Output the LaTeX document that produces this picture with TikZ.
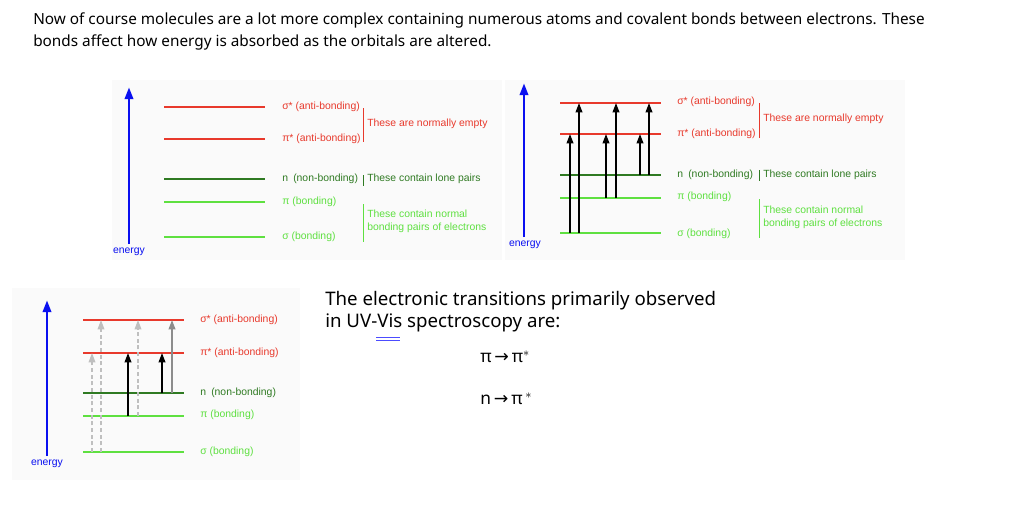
\documentclass[tikz,border=0pt]{standalone}
\usepackage{fontspec}
\setmainfont{Noto Sans}
\newfontfamily\lib{Liberation Sans}
\newfontfamily\dv{DejaVu Sans}
\definecolor{ared}{HTML}{E8392C}
\definecolor{dgreen}{HTML}{2F7A22}
\definecolor{lgreen}{HTML}{5EE040}
\definecolor{eblue}{HTML}{0A10F0}
\usetikzlibrary{arrows.meta}
\tikzset{
 lvl/.style={line width=1.3pt},
 lab/.style={anchor=west,font=\lib\fontsize{7.8}{9.5}\selectfont,inner sep=0pt},
 en/.style={-{Triangle[length=9pt,width=6pt]},eblue,line width=2.2pt},
 tr/.style={-{Triangle[length=7pt,width=5pt]},black,line width=1.2pt},
 trl/.style={-{Triangle[length=7pt,width=5pt]},black!25,line width=1pt,densely dashed},
 trg/.style={-{Triangle[length=7pt,width=5pt]},black!45,line width=1.2pt},
 brk/.style={line width=0.5pt},
}
\begin{document}
\begin{tikzpicture}[x=0.75pt,y=-0.75pt]
\useasboundingbox (0,0) rectangle (1032,504);
\fill[white] (0,0) rectangle (1032,504);
\node[anchor=west,inner sep=0pt,font=\fontsize{11.5}{16.5}\selectfont,align=left] (intro) at (33,31)
 {Now of course molecules are a lot more complex containing numerous atoms and covalent bonds between electrons. These\\bonds affect how energy is absorbed as the orbitals are altered.};
\fill[black!2] (112,80) rectangle (502,260);
\fill[black!2] (505,80) rectangle (905,260);
\fill[black!2] (12,288) rectangle (300,480);
% Diagram 1
\draw[en] (129,244) -- (129,87);
\node[lab,eblue,anchor=north] (e1) at (129,248) {energy};
\foreach \n/\y/\c in {ss/107/ared,ps/139/ared,n/179/dgreen,p/202/lgreen,s/237/lgreen}{
 \draw[lvl,\c] (164,\y) -- (265,\y);}
\node[lab,ared] (l1a) at (282,107) {σ* (anti-bonding)};
\node[lab,ared] (l1b) at (282,139) {π* (anti-bonding)};
\node[lab,dgreen] (l1c) at (282,179) {n\enspace(non-bonding)};
\node[lab,lgreen] (l1d) at (282,202) {π (bonding)};
\node[lab,lgreen] (l1e) at (282,237) {σ (bonding)};
\draw[brk,ared] (363,108) -- (363,142);
\node[lab,ared] (t1a) at (367,124) {These are normally empty};
\draw[brk,dgreen] (363,175) -- (363,186);
\node[lab,dgreen] (t1b) at (367,179) {These contain lone pairs};
\draw[brk,lgreen] (363,204) -- (363,242);
\node[lab,lgreen,align=left] (t1c) at (367,221) {These contain normal\\bonding pairs of electrons};
% Diagram 2
\draw[en] (524,237) -- (524,83);
\node[lab,eblue,anchor=north] (e2) at (525,241) {energy};
\foreach \n/\y/\c in {ss/103/ared,ps/134/ared,n/175/dgreen,p/198/lgreen,s/233/lgreen}{
 \draw[lvl,\c] (560,\y) -- (661,\y);}
\draw[tr] (570,233) -- (570,134);
\draw[tr] (579,233) -- (579,103);
\draw[tr] (606,198) -- (606,134);
\draw[tr] (616,198) -- (616,103);
\draw[tr] (640,175) -- (640,134);
\draw[tr] (649,175) -- (649,103);
\node[lab,ared] (l2a) at (677,102) {σ* (anti-bonding)};
\node[lab,ared] (l2b) at (677,134) {π* (anti-bonding)};
\node[lab,dgreen] (l2c) at (677,175) {n\enspace(non-bonding)};
\node[lab,lgreen] (l2d) at (677,197) {π (bonding)};
\node[lab,lgreen] (l2e) at (677,234) {σ (bonding)};
\draw[brk,ared] (759,103) -- (759,138);
\node[lab,ared] (t2a) at (763,119) {These are normally empty};
\draw[brk,dgreen] (759,170) -- (759,181);
\node[lab,dgreen] (t2b) at (763,175) {These contain lone pairs};
\draw[brk,lgreen] (759,199) -- (759,238);
\node[lab,lgreen,align=left] (t2c) at (763,217) {These contain normal\\bonding pairs of electrons};
% Diagram 3
\draw[en] (47,456) -- (47,300);
\node[lab,eblue,anchor=north] (e3) at (47,460) {energy};
\foreach \n/\y/\c in {ss/320/ared,ps/353/ared,n/393/dgreen,p/416/lgreen,s/452/lgreen}{
 \draw[lvl,\c] (83,\y) -- (184,\y);}
\draw[trl] (92,452) -- (92,353);
\draw[trl] (101,452) -- (101,320);
\draw[tr] (128,416) -- (128,353);
\draw[trl] (138,416) -- (138,320);
\draw[tr] (162,393) -- (162,353);
\draw[trg] (172,393) -- (172,320);
\node[lab,ared] (l3a) at (200,320) {σ* (anti-bonding)};
\node[lab,ared] (l3b) at (200,353) {π* (anti-bonding)};
\node[lab,dgreen] (l3c) at (200,393) {n\enspace(non-bonding)};
\node[lab,lgreen] (l3d) at (200,415) {π (bonding)};
\node[lab,lgreen] (l3e) at (200,452) {σ (bonding)};
% Right text
\node[anchor=west,inner sep=0pt,font=\fontsize{14}{16.5}\selectfont,align=left] (rt) at (325,312)
 {The electronic transitions primarily observed\\in UV-Vis spectroscopy are:};
\draw[blue!70,line width=0.6pt] (376,337.5) -- (400,337.5) (376,340.5) -- (400,340.5);
\node[anchor=west,inner sep=0pt,font=\fontsize{13}{16}\selectfont] (pp) at (480,357) {π\,{\dv →}\,π$^{*}$};
\node[anchor=west,inner sep=0pt,font=\fontsize{13}{16}\selectfont] (np) at (480,399) {n\,{\dv →}\,π\,$^{*}$};
\end{tikzpicture}
\end{document}
